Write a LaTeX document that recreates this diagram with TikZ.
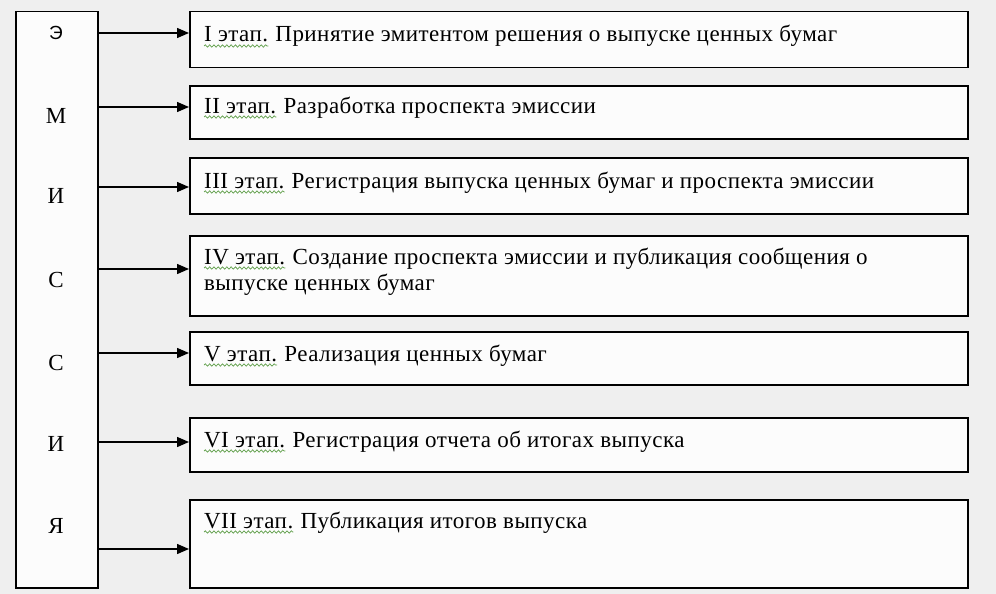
\documentclass[tikz,border=0pt]{standalone}
\usepackage{fontspec}
\setmainfont{Liberation Serif}
\newfontfamily\sansf{Liberation Sans}
\newfontfamily\stagef[LetterSpace=2]{Liberation Serif}
\usetikzlibrary{arrows.meta,decorations.pathmorphing}
\definecolor{bggray}{HTML}{EFEFEF}
\definecolor{boxfill}{HTML}{FCFCFC}
\definecolor{wavygreen}{HTML}{5E9E48}
\begin{document}
\begin{tikzpicture}[x=1pt,y=-1pt,
  framebox/.style={draw=black,line width=1.5pt,fill=boxfill,anchor=north west,inner sep=0pt},
  lbl/.style={anchor=base west,inner sep=0pt,font=\stagef\fontsize{23}{26}\selectfont},
  letter/.style={inner sep=0pt,font=\fontsize{23}{26}\selectfont},
  conn/.style={line width=1.4pt,-{Triangle[length=12pt,width=10pt]}},
  wavy/.style={draw=wavygreen,line width=0.7pt,decorate,decoration={snake,segment length=4.3pt,amplitude=1.2pt}}]
\fill[bggray] (0,0) rectangle (996,594);
\useasboundingbox (0,0) rectangle (996,594);
% left box
\node[framebox,minimum width=82pt,minimum height=576pt] (em) at (15,11) {};
\node[letter,font=\sansf\fontsize{19}{22}\selectfont] (l1) at (56,33) {Э};
\node[letter] (l2) at (56,116) {М};
\node[letter] (l3) at (56,196) {И};
\node[letter] (l4) at (56,280) {С};
\node[letter] (l5) at (56,363) {С};
\node[letter] (l6) at (56,444) {И};
\node[letter] (l7) at (56,526) {Я};
% stage boxes
\node[framebox,minimum width=778pt,minimum height=56pt] (s1) at (189,11) {};
\node[framebox,minimum width=778pt,minimum height=53pt] (s2) at (189,85) {};
\node[framebox,minimum width=778pt,minimum height=56pt] (s3) at (189,157) {};
\node[framebox,minimum width=778pt,minimum height=80pt] (s4) at (189,235) {};
\node[framebox,minimum width=778pt,minimum height=53pt] (s5) at (189,331) {};
\node[framebox,minimum width=778pt,minimum height=54pt] (s6) at (189,417) {};
\node[framebox,minimum width=778pt,minimum height=88pt] (s7) at (189,499) {};
% texts
\node[lbl] (p1) at (204,42) {I этап.};
\node[lbl] (t1) at ([xshift=7pt]p1.base east) {Принятие эмитентом решения о выпуске ценных бумаг};
\node[lbl] (p2) at (204,113) {II этап.};
\node[lbl] (t2) at ([xshift=7pt]p2.base east) {Разработка проспекта эмиссии};
\node[lbl] (p3) at (204,188) {III этап.};
\node[lbl] (t3) at ([xshift=7pt]p3.base east) {Регистрация выпуска ценных бумаг и проспекта эмиссии};
\node[lbl] (p4) at (204,264) {IV этап.};
\node[lbl] (t4) at ([xshift=7pt]p4.base east) {Создание проспекта эмиссии и публикация сообщения о};
\node[lbl] (t4b) at (204,290) {выпуске ценных бумаг};
\node[lbl] (p5) at (204,361) {V этап.};
\node[lbl] (t5) at ([xshift=7pt]p5.base east) {Реализация ценных бумаг};
\node[lbl] (p6) at (204,447) {VI этап.};
\node[lbl] (t6) at ([xshift=7pt]p6.base east) {Регистрация отчета об итогах выпуска};
\node[lbl] (p7) at (204,528) {VII этап.};
\node[lbl] (t7) at ([xshift=7pt]p7.base east) {Публикация итогов выпуска};
% spell-check underlines
\foreach \p in {p1,p2,p3,p4,p5,p6,p7}
  \draw[wavy] ([yshift=-4pt]\p.base west) -- ([yshift=-4pt]\p.base east);
% arrow ends
\coordinate (a1) at (189,33);
\coordinate (a2) at (189,107);
\coordinate (a3) at (189,187);
\coordinate (a4) at (189,269);
\coordinate (a5) at (189,353);
\coordinate (a6) at (189,442);
\coordinate (a7) at (189,549);
\foreach \a in {a1,a2,a3,a4,a5,a6,a7}
  \draw[conn] (em.east |- \a) -- (\a);
\end{tikzpicture}
\end{document}
